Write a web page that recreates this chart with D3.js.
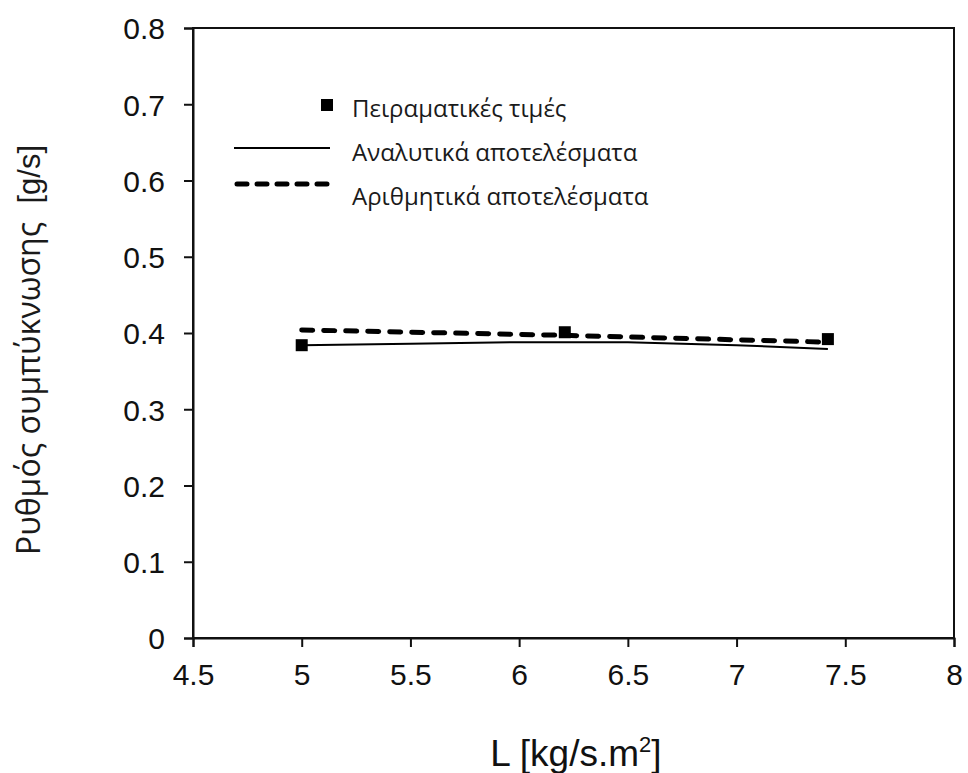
<!DOCTYPE html>
<html>
<head>
<meta charset="utf-8">
<script src="https://cdn.jsdelivr.net/npm/d3@7"></script>
<style>
  body { margin: 0; background: #fff; }
  svg { display: block; }
</style>
</head>
<body>
<svg id="chart" width="968" height="773"></svg>
<script>
// data
var expX = [5.0, 6.21, 7.42];
var expY = [0.384, 0.401, 0.392];

var anaX = [5.0, 5.5, 6.0, 6.5, 7.0, 7.42];
var anaY = [0.384, 0.386, 0.388, 0.388, 0.384, 0.379];

var numX = [5.0, 6.2, 7.42];
var numY = [0.404, 0.397, 0.388];

var xTicks = [4.5, 5, 5.5, 6, 6.5, 7, 7.5, 8];
var yTicks = [0, 0.1, 0.2, 0.3, 0.4, 0.5, 0.6, 0.7, 0.8];

var legendLabels = ["Πειραματικές τιμές", "Αναλυτικά αποτελέσματα", "Αριθμητικά αποτελέσματα"];

var margin = {left: 193, top: 28, right: 14, bottom: 135};
var W = 968, H = 773;

var svg = d3.select("#chart");

var xScale = d3.scaleLinear().domain([4.5, 8]).range([margin.left, W - margin.right]);
var yScale = d3.scaleLinear().domain([0, 0.8]).range([H - margin.bottom, margin.top]);

var tickFont = "Liberation Sans, Arial, sans-serif";
var greekFont = "Open Sans, Noto Sans, sans-serif";

// frame
svg.append("rect")
    .attr("x", xScale(4.5))
    .attr("y", yScale(0.8))
    .attr("width", xScale(8) - xScale(4.5))
    .attr("height", yScale(0) - yScale(0.8))
    .attr("fill", "none")
    .attr("stroke", "#111")
    .attr("stroke-width", 2);

var xAxis = svg.append("g")
    .attr("transform", "translate(0," + yScale(0) + ")")
    .call(d3.axisBottom(xScale).tickValues(xTicks).tickSize(9).tickPadding(17).tickFormat(d3.format("")));
var yAxis = svg.append("g")
    .attr("transform", "translate(" + xScale(4.5) + ",0)")
    .call(d3.axisLeft(yScale).tickValues(yTicks).tickSize(9).tickPadding(19).tickFormat(d3.format("")));

[xAxis, yAxis].forEach(function (ax) {
    ax.select(".domain").attr("stroke", "#111").attr("stroke-width", 2);
    ax.selectAll(".tick line").attr("stroke", "#111").attr("stroke-width", 2);
    ax.selectAll(".tick text")
        .attr("fill", "#111")
        .style("font-family", tickFont)
        .style("font-size", "30px");
});
yAxis.selectAll(".tick text").attr("dy", "0.36em");

// lines
var line = d3.line()
    .x(function (d) { return xScale(d[0]); })
    .y(function (d) { return yScale(d[1]); });

svg.append("path")
    .datum(d3.zip(anaX, anaY))
    .attr("d", line)
    .attr("fill", "none")
    .attr("stroke", "#000")
    .attr("stroke-width", 2);

svg.append("path")
    .datum(d3.zip(numX, numY))
    .attr("d", line)
    .attr("fill", "none")
    .attr("stroke", "#000")
    .attr("stroke-width", 5)
    .attr("stroke-linecap", "round")
    .attr("stroke-dasharray", "11,11");

// experimental squares
svg.selectAll(".exp-pt")
    .data(d3.zip(expX, expY))
    .enter()
    .append("rect")
    .attr("class", "exp-pt")
    .attr("x", function (d) { return xScale(d[0]) - 6; })
    .attr("y", function (d) { return yScale(d[1]) - 6; })
    .attr("width", 12)
    .attr("height", 12)
    .attr("fill", "#000");

// legend
var legend = svg.append("g");
legend.append("rect")
    .attr("x", 321).attr("y", 99).attr("width", 12).attr("height", 12).attr("fill", "#000");
legend.append("line")
    .attr("x1", 234).attr("x2", 330).attr("y1", 148).attr("y2", 148)
    .attr("stroke", "#000").attr("stroke-width", 2);
legend.append("line")
    .attr("x1", 237).attr("x2", 330).attr("y1", 184).attr("y2", 184)
    .attr("stroke", "#000").attr("stroke-width", 5)
    .attr("stroke-linecap", "round")
    .attr("stroke-dasharray", "10,10");

legend.selectAll(".legend-text")
    .data(legendLabels)
    .enter()
    .append("text")
    .attr("class", "legend-text")
    .attr("x", 352)
    .attr("y", function (d, i) { return 117 + i * 44; })
    .attr("fill", "#1a1a1a")
    .style("font-family", greekFont)
    .style("font-size", "24px")
    .text(function (d) { return d; });

// axis titles
var xt = svg.append("text")
    .attr("x", 576)
    .attr("y", 766)
    .attr("text-anchor", "middle")
    .attr("fill", "#111")
    .style("font-family", tickFont)
    .style("font-size", "37px");
xt.append("tspan").text("L [kg/s.m");
xt.append("tspan").attr("dy", -14).style("font-size", "22px").text("2");
xt.append("tspan").attr("dy", 14).text("]");

var yt = svg.append("text")
    .attr("transform", "translate(40,350) rotate(-90)")
    .attr("text-anchor", "middle")
    .attr("fill", "#1a1a1a");
yt.append("tspan")
    .style("font-family", greekFont)
    .style("font-size", "32px")
    .text("Ρυθμός συμπύκνωσης ");
yt.append("tspan")
    .attr("dx", 10)
    .style("font-family", tickFont)
    .style("font-size", "31px")
    .text("[g/s]");
</script>
</body>
</html>
